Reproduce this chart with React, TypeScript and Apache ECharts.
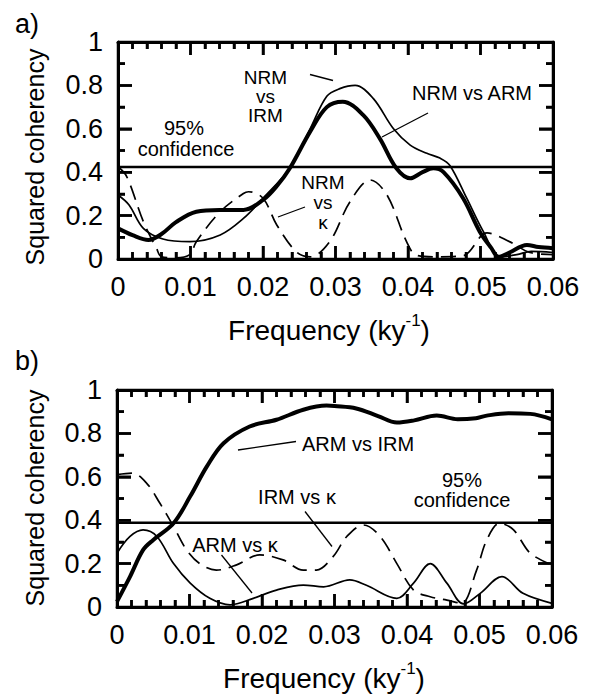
import React, { useEffect, useRef } from "react";
import * as echarts from "echarts";

const FONT = "'Liberation Sans', Arial, Helvetica, sans-serif";

// ---------- Panel a ----------
const aNrmArmFreq = [0, 0.002, 0.0042, 0.006, 0.008, 0.0108, 0.014, 0.0173, 0.02, 0.022, 0.0237, 0.0265, 0.0288, 0.031, 0.0338, 0.0361, 0.0384, 0.0403, 0.042, 0.0435, 0.0449, 0.0476, 0.0499, 0.0515, 0.0525, 0.054, 0.0564, 0.058, 0.06];
const aNrmArmCoh = [0.141, 0.11, 0.088, 0.115, 0.17, 0.218, 0.226, 0.226, 0.272, 0.34, 0.418, 0.587, 0.7, 0.725, 0.664, 0.556, 0.418, 0.372, 0.4, 0.418, 0.4, 0.28, 0.126, 0.05, 0.01, 0.03, 0.065, 0.055, 0.05];

const aNrmIrmFreq = [0, 0.0015, 0.0035, 0.0062, 0.0099, 0.0141, 0.0173, 0.02, 0.0237, 0.0265, 0.0288, 0.0306, 0.0327, 0.0352, 0.038, 0.0403, 0.0426, 0.0444, 0.0458, 0.0481, 0.0504, 0.0527, 0.055, 0.057, 0.06];
const aNrmIrmCoh = [0.295, 0.25, 0.141, 0.092, 0.08, 0.111, 0.187, 0.28, 0.42, 0.6, 0.75, 0.785, 0.8, 0.74, 0.6, 0.525, 0.487, 0.465, 0.43, 0.28, 0.126, 0.01, 0.02, 0.035, 0.03];

const aNrmKappaFreq = [0, 0.0012, 0.0035, 0.0053, 0.006, 0.008, 0.0099, 0.0108, 0.0141, 0.0173, 0.018, 0.02, 0.0219, 0.0246, 0.0265, 0.0292, 0.032, 0.0348, 0.0371, 0.0398, 0.0412, 0.044, 0.0476, 0.0509, 0.054, 0.0568, 0.06];
const aNrmKappaCoh = [0.425, 0.38, 0.172, 0.05, 0.01, 0.005, 0.02, 0.08, 0.218, 0.302, 0.31, 0.28, 0.157, 0.033, 0.01, 0.08, 0.264, 0.364, 0.295, 0.08, 0.017, 0.01, 0.015, 0.12, 0.08, 0.03, 0.02];

const aConfidence = 0.424;

// ---------- Panel b ----------
const bArmIrmFreq = [0, 0.0018, 0.0036, 0.005, 0.0078, 0.0101, 0.0124, 0.0147, 0.0183, 0.022, 0.0257, 0.0289, 0.03, 0.033, 0.036, 0.0386, 0.041, 0.0441, 0.047, 0.0495, 0.051, 0.054, 0.057, 0.06];
const bArmIrmCoh = [0.025, 0.14, 0.263, 0.309, 0.386, 0.51, 0.648, 0.755, 0.832, 0.863, 0.909, 0.928, 0.926, 0.915, 0.88, 0.85, 0.86, 0.882, 0.865, 0.87, 0.882, 0.893, 0.89, 0.865];

const bArmKappaFreq = [0, 0.0018, 0.0036, 0.0055, 0.0078, 0.0101, 0.0128, 0.0156, 0.0188, 0.022, 0.0257, 0.0285, 0.0321, 0.0344, 0.0386, 0.0409, 0.0432, 0.0455, 0.0478, 0.0501, 0.0531, 0.056, 0.06];
const bArmKappaCoh = [0.248, 0.325, 0.355, 0.325, 0.2, 0.11, 0.04, 0.01, 0.04, 0.078, 0.101, 0.093, 0.125, 0.1, 0.04, 0.11, 0.2, 0.11, 0.014, 0.063, 0.14, 0.063, 0.017];

const bIrmKappaFreq = [0, 0.0021, 0.0041, 0.0059, 0.0078, 0.0096, 0.0114, 0.0137, 0.0165, 0.0197, 0.0229, 0.0257, 0.0275, 0.0298, 0.0317, 0.034, 0.0363, 0.0386, 0.0409, 0.0432, 0.0455, 0.0475, 0.0496, 0.051, 0.0528, 0.0547, 0.057, 0.06];
const bIrmKappaCoh = [0.61, 0.617, 0.57, 0.479, 0.371, 0.263, 0.2, 0.17, 0.194, 0.24, 0.217, 0.17, 0.17, 0.232, 0.325, 0.378, 0.325, 0.2, 0.078, 0.047, 0.032, 0.017, 0.17, 0.309, 0.386, 0.355, 0.248, 0.194];

const bConfidence = 0.388;

// axis ranges and tick spacing
const freqMin = 0;
const freqMax = 0.06;
const freqStep = 0.01;
const freqMinorSteps = 5;
const cohMin = 0;
const cohMax = 1;
const cohStep = 0.2;
const cohMinorSteps = 2;

const GRIDS = [
  { left: 118, top: 42, width: 435, height: 217 },
  { left: 117, top: 390, width: 435, height: 217 },
];

const pairs = (x: number[], y: number[]) => x.map((f, i) => [f, y[i]]);

const MAJOR = 13;
const MINOR = 7;
const TICK_W = 2.5;

// inward tick marks drawn as one "comb" polyline per frame side
function tickCombs(g: { left: number; top: number; width: number; height: number }) {
  const bottom = g.top + g.height;
  const right = g.left + g.width;
  const nx = Math.round((freqMax - freqMin) / freqStep) * freqMinorSteps;
  const ny = Math.round((cohMax - cohMin) / cohStep) * cohMinorSteps;
  const bot: number[][] = [[g.left, bottom]];
  const top: number[][] = [[g.left, g.top]];
  for (let i = 1; i < nx; i++) {
    const x = g.left + (g.width * i) / nx;
    const len = i % freqMinorSteps === 0 ? MAJOR : MINOR;
    bot.push([x, bottom], [x, bottom - len], [x, bottom]);
    top.push([x, g.top], [x, g.top + len], [x, g.top]);
  }
  bot.push([right, bottom]);
  top.push([right, g.top]);
  const lft: number[][] = [[g.left, bottom]];
  const rgt: number[][] = [[right, bottom]];
  for (let i = 1; i < ny; i++) {
    const y = bottom - (g.height * i) / ny;
    const len = i % cohMinorSteps === 0 ? MAJOR + 1 : MINOR;
    lft.push([g.left, y], [g.left + len, y], [g.left, y]);
    rgt.push([right, y], [right - len, y], [right, y]);
  }
  lft.push([g.left, g.top]);
  rgt.push([right, g.top]);
  return [bot, top, lft, rgt].map((points) => ({
    type: "polyline",
    silent: true,
    z: 100,
    shape: { points },
    style: { stroke: "#000", lineWidth: TICK_W, fill: null, lineJoin: "miter" },
  }));
}

function xAxes(gridIndex: number) {
  const common = {
    type: "value" as const,
    gridIndex,
    min: freqMin,
    max: freqMax,
    interval: freqStep,
    axisLine: { show: true, onZero: false, lineStyle: { color: "#000", width: 3 } },
    axisTick: { show: true, inside: true, length: MAJOR, lineStyle: { color: "#000", width: TICK_W } },
    minorTick: { show: true, splitNumber: freqMinorSteps, length: MINOR, lineStyle: { color: "#000", width: TICK_W } },
    splitLine: { show: false },
    minorSplitLine: { show: false },
  };
  return [
    {
      ...common,
      position: "bottom",
      axisLabel: {
        show: true,
        fontSize: 27,
        fontFamily: FONT,
        color: "#000",
        margin: 14,
        formatter: (v: number) => (Math.abs(v) < 1e-9 ? "0" : v.toFixed(2)),
      },
    },
    { ...common, position: "top", axisLabel: { show: false } },
  ];
}

function yAxes(gridIndex: number) {
  const common = {
    type: "value" as const,
    gridIndex,
    min: cohMin,
    max: cohMax,
    interval: cohStep,
    axisLine: { show: true, onZero: false, lineStyle: { color: "#000", width: 3 } },
    axisTick: { show: true, inside: true, length: MAJOR + 1, lineStyle: { color: "#000", width: TICK_W } },
    minorTick: { show: true, splitNumber: cohMinorSteps, length: MINOR, lineStyle: { color: "#000", width: TICK_W } },
    splitLine: { show: false },
    minorSplitLine: { show: false },
  };
  return [
    {
      ...common,
      position: "left",
      axisLabel: {
        show: true,
        fontSize: 27,
        fontFamily: FONT,
        color: "#000",
        margin: 15,
        formatter: (v: number) => (Math.abs(v) < 1e-9 ? "0" : Math.abs(v - 1) < 1e-9 ? "1" : v.toFixed(1)),
      },
    },
    { ...common, position: "right", axisLabel: { show: false } },
  ];
}

function line(data: number[][], axis: number, width: number, dashed: boolean, z = 3) {
  return {
    type: "line",
    xAxisIndex: axis,
    yAxisIndex: axis,
    data,
    showSymbol: false,
    symbol: "none",
    smooth: 0.35,
    clip: true,
    silent: true,
    z,
    lineStyle: {
      color: "#000",
      width,
      type: dashed ? [15, 8] : "solid",
      cap: "butt",
    },
  };
}

const txt = (text: string, x: number, y: number, size = 20, extra: any = {}) => ({
  type: "text",
  x,
  y,
  silent: true,
  style: {
    text,
    fill: "#000",
    fontSize: size,
    fontFamily: FONT,
    align: "center",
    verticalAlign: "middle",
    ...extra,
  },
});

const seg = (x1: number, y1: number, x2: number, y2: number) => ({
  type: "line",
  silent: true,
  shape: { x1, y1, x2, y2 },
  style: { stroke: "#000", lineWidth: 1.3 },
});

const freqTitle = (x: number, y: number, size: number) => ({
  type: "text",
  x,
  y,
  silent: true,
  style: {
    text: "{m|Frequency (ky}{s|-1}{m|)}",
    align: "center",
    verticalAlign: "middle",
    rich: {
      m: { fontSize: size, fontFamily: FONT, fill: "#000", verticalAlign: "bottom", lineHeight: size + 4 },
      s: { fontSize: Math.round(size * 0.62), fontFamily: FONT, fill: "#000", verticalAlign: "top", lineHeight: size + 4 },
    },
  },
});

export default function App() {
  const ref = useRef<HTMLDivElement>(null);
  useEffect(() => {
    document.body.style.margin = "0";
    if (!ref.current) return;
    const chart = echarts.init(ref.current, undefined, { renderer: "svg" });
    const option: any = {
      animation: false,
      backgroundColor: "#fff",
      grid: GRIDS,
      xAxis: [...xAxes(0), ...xAxes(1)],
      yAxis: [...yAxes(0), ...yAxes(1)],
      series: [
        // panel a (axes 0)
        line(pairs(aNrmArmFreq, aNrmArmCoh), 0, 4, false, 4),
        line(pairs(aNrmIrmFreq, aNrmIrmCoh), 0, 1.7, false),
        line(pairs(aNrmKappaFreq, aNrmKappaCoh), 0, 1.7, true),
        line([[freqMin, aConfidence], [freqMax, aConfidence]], 0, 2.5, false),
        // panel b (axes 2)
        line(pairs(bArmIrmFreq, bArmIrmCoh), 2, 4, false, 4),
        line(pairs(bArmKappaFreq, bArmKappaCoh), 2, 1.7, false),
        line(pairs(bIrmKappaFreq, bIrmKappaCoh), 2, 1.7, true),
        line([[freqMin, bConfidence], [freqMax, bConfidence]], 2, 2.5, false),
      ],
      graphic: [
        ...tickCombs(GRIDS[0]),
        ...tickCombs(GRIDS[1]),
        // panel labels
        txt("a)", 27, 24, 27),
        txt("b)", 27, 361, 27),
        // y axis titles
        { ...txt("Squared coherency", 35, 157, 25), rotation: Math.PI / 2 },
        { ...txt("Squared coherency", 35, 498, 25), rotation: Math.PI / 2 },
        // x axis titles
        freqTitle(329, 328, 28),
        freqTitle(324, 676, 28),
        // panel a annotations
        txt("NRM", 265.5, 77, 19),
        txt("vs", 265.5, 96, 19),
        txt("IRM", 265.5, 115, 19),
        seg(310, 74.5, 333, 80.5),
        txt("NRM vs ARM", 472, 93, 20),
        seg(428, 113, 382, 137),
        txt("95%", 184, 128, 20),
        txt("confidence", 186, 149, 20),
        txt("NRM", 323, 182, 19),
        txt("vs", 323, 202, 19),
        txt("\u03ba", 323, 222, 19),
        seg(305, 207, 278, 217),
        // panel b annotations
        txt("ARM vs IRM", 358, 444, 20),
        seg(238, 450, 296, 441.5),
        txt("IRM vs \u03ba", 297, 497, 20),
        seg(305, 511.5, 332, 546.5),
        txt("ARM vs \u03ba", 235, 545, 20),
        seg(221.5, 555, 252, 593),
        txt("95%", 462, 480, 20),
        txt("confidence", 462, 500, 20),
      ],
    };
    chart.setOption(option);
    return () => chart.dispose();
  }, []);
  return <div ref={ref} style={{ width: 593, height: 697 }} />;
}
